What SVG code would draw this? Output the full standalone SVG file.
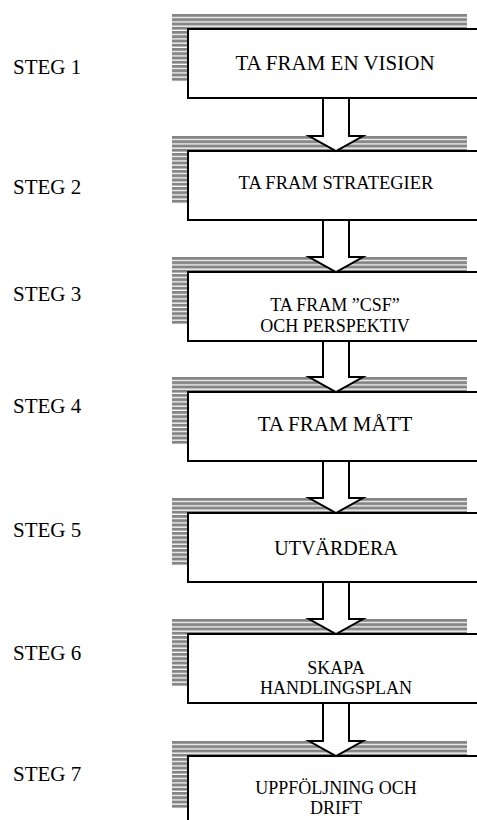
<svg xmlns="http://www.w3.org/2000/svg" width="477" height="820" viewBox="0 0 477 820">
<style>
.lbl{font-family:"Liberation Serif","Times New Roman",serif;font-size:21px;fill:#000}
.t{font-family:"Liberation Serif","Times New Roman",serif;fill:#000;text-anchor:middle}
.box{fill:#fff;stroke:#000;stroke-width:2}
.shadow{fill:url(#stripes)}
.arrow{fill:#fff;stroke:#000;stroke-width:2;stroke-linejoin:miter}
</style>
<defs>
<pattern id="stripes" patternUnits="userSpaceOnUse" x="0" y="14" width="10" height="4.25">
<rect x="0" y="0" width="10" height="3" fill="#858585"/>
</pattern>
</defs>
<rect width="477" height="820" fill="#fff"/>
<g id="labels">
<text class="lbl" x="13" y="74">STEG 1</text>
<text class="lbl" x="13" y="194">STEG 2</text>
<text class="lbl" x="13" y="301">STEG 3</text>
<text class="lbl" x="13" y="413">STEG 4</text>
<text class="lbl" x="13" y="537">STEG 5</text>
<text class="lbl" x="13" y="660">STEG 6</text>
<text class="lbl" x="13" y="781">STEG 7</text>
</g>
<g id="node1">
<rect class="shadow" x="172" y="14" width="295" height="68"/>
<rect class="box" x="188" y="29" width="300" height="69"/>
<text class="t" x="335" y="70" font-size="21">TA FRAM EN VISION</text>
</g>
<g id="node2" transform="translate(0,122)">
<rect class="shadow" x="172" y="14" width="295" height="68"/>
<rect class="box" x="188" y="29" width="300" height="69"/>
<text class="t" x="336" y="67" font-size="18.5">TA FRAM STRATEGIER</text>
</g>
<g id="node3" transform="translate(0,243)">
<rect class="shadow" x="172" y="14" width="295" height="68"/>
<rect class="box" x="188" y="29" width="300" height="69"/>
<text class="t" x="335" y="68" font-size="18">TA FRAM ”CSF”</text>
<text class="t" x="335" y="89" font-size="18">OCH PERSPEKTIV</text>
</g>
<g id="node4" transform="translate(0,363)">
<rect class="shadow" x="172" y="14" width="295" height="68"/>
<rect class="box" x="188" y="29" width="300" height="69"/>
<text class="t" x="335" y="68" font-size="21">TA FRAM MÅTT</text>
</g>
<g id="node5" transform="translate(0,484)">
<rect class="shadow" x="172" y="14" width="295" height="68"/>
<rect class="box" x="188" y="29" width="300" height="69"/>
<text class="t" x="336" y="71" font-size="20">UTVÄRDERA</text>
</g>
<g id="node6" transform="translate(0,605)">
<rect class="shadow" x="172" y="14" width="295" height="68"/>
<rect class="box" x="188" y="29" width="300" height="69"/>
<text class="t" x="336" y="69" font-size="18">SKAPA</text>
<text class="t" x="336" y="89" font-size="18">HANDLINGSPLAN</text>
</g>
<g id="node7" transform="translate(0,727)">
<rect class="shadow" x="172" y="14" width="295" height="68"/>
<rect class="box" x="188" y="29" width="300" height="69"/>
<text class="t" x="336" y="67" font-size="18">UPPFÖLJNING OCH</text>
<text class="t" x="336" y="87" font-size="18">DRIFT</text>
</g>
<g id="connectors">
<polygon class="arrow" points="323,98 349,98 349,136 363,136 336,151 309,136 323,136"/>
<polygon class="arrow" points="323,220 349,220 349,257 363,257 336,272 309,257 323,257"/>
<polygon class="arrow" points="323,341 349,341 349,377 363,377 336,392 309,377 323,377"/>
<polygon class="arrow" points="323,461 349,461 349,498 363,498 336,513 309,498 323,498"/>
<polygon class="arrow" points="323,582 349,582 349,619 363,619 336,634 309,619 323,619"/>
<polygon class="arrow" points="323,703 349,703 349,741 363,741 336,756 309,741 323,741"/>
</g>
</svg>
